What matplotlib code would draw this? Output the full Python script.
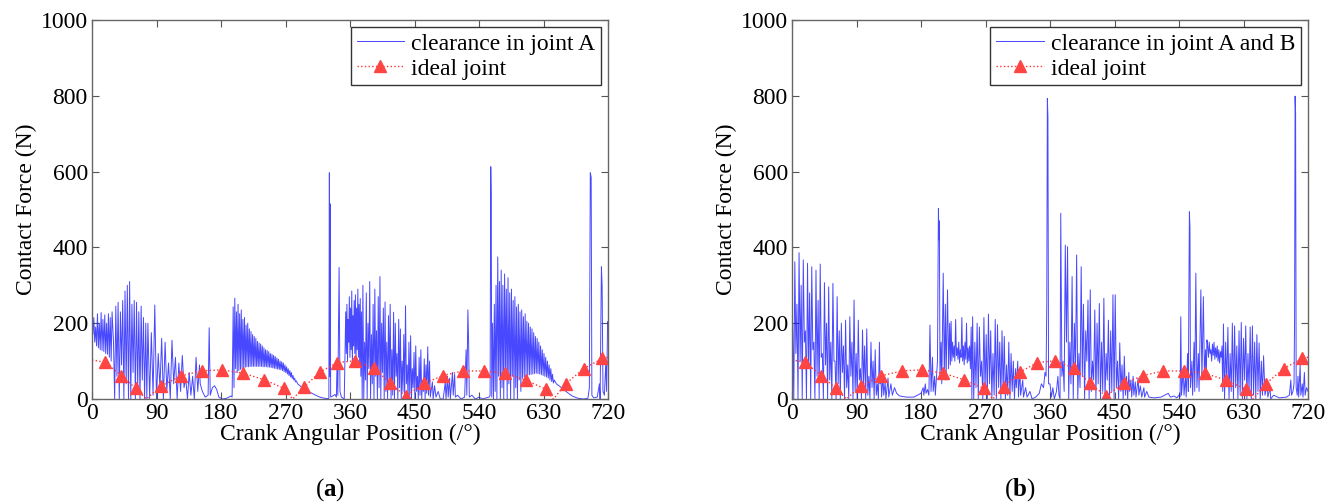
import matplotlib
matplotlib.use('Agg')
import matplotlib.pyplot as plt
import numpy as np

plt.rcParams['font.family'] = ['Liberation Serif', 'DejaVu Serif']
plt.rcParams['mathtext.fontset'] = 'custom'
plt.rcParams['mathtext.rm'] = 'Liberation Serif'
plt.rcParams['mathtext.bf'] = 'Liberation Serif:bold'

# ideal joint (same in both panels); zero dips have no marker
ideal_x = [0, 18, 41, 61, 76, 96, 124, 153, 181, 211, 240, 268, 280, 296, 318, 342, 367,
           394, 416, 438, 463, 490, 518, 547, 576, 605, 633, 644, 661, 686, 712, 720]
ideal_y = [103, 97, 62, 28, 0, 34, 61, 74, 77, 68, 51, 28, 0, 32, 71, 96, 101,
           81, 41, 8, 41, 62, 74, 74, 68, 50, 26, 0, 40, 80, 107, 110]
ideal_marks = [i for i, x in enumerate(ideal_x) if x not in (0, 76, 280, 644, 720)]

# clearance in joint A: bursts of impacts (start, end, peak heights, trough heights)
a_bursts = [
    (0, 28, [205, 215, 190, 225, 200, 228, 210, 222, 200, 225, 215, 230],
     [170, 150, 140, 135, 130, 128, 125, 120, 118, 110, 100]),
    (30, 75, [150, 245, 255, 230, 260, 285, 300, 310, 250, 260, 255, 230, 245, 215, 200],
     [0, 60, 0, 90, 0, 40, 0, 0, 70, 0, 30, 0, 50, 0]),
    (78, 150, [200, 175, 248, 120, 160, 150, 95, 155, 110, 95, 115, 55, 70, 60, 110, 90],
     [0, 10, 0, 30, 0, 20, 0, 40, 0, 20, 30, 0, 10, 0, 20]),
    (197, 285, [243, 266, 230, 250, 225, 235, 210, 215, 195, 200, 185, 178, 170, 165, 160,
                152, 148, 145, 140, 135, 130, 128, 125, 120, 118, 115, 112, 108, 105, 100,
                98, 95, 90, 85, 80, 75, 70, 62, 55, 48],
     [30, 80, 70, 75, 78, 80, 82, 84, 85, 85, 86, 86, 86, 86, 86, 86, 86, 86, 85, 85,
      85, 84, 84, 83, 82, 81, 80, 79, 78, 77, 75, 72, 70, 66, 62, 58, 54, 50, 45]),
    (354, 376, [230, 250, 210, 270, 240, 285, 220, 260, 275, 240, 290, 250, 265, 230],
     [120, 100, 150, 110, 130, 90, 140, 120, 100, 130, 110, 90, 60]),
    (378, 466, [300, 150, 280, 200, 310, 170, 250, 290, 180, 270, 323, 200, 240, 256, 150,
                220, 250, 130, 229, 200, 120, 210, 185, 100, 170, 246, 90, 150, 167, 80,
                123, 140, 60, 110, 130, 50, 106, 90],
     [0, 50, 0, 80, 0, 40, 0, 60, 0, 30, 0, 70, 0, 20, 0, 50, 0, 10, 0, 60, 0, 30, 0, 20,
      0, 40, 0, 10, 0, 30, 0, 20, 0, 10, 0, 20, 0]),
    (559, 645, [200, 250, 300, 375, 310, 340, 300, 330, 290, 320, 280, 290, 260, 270, 243,
                250, 230, 235, 217, 225, 205, 200, 190, 185, 175, 165, 160, 150, 140, 130,
                120, 110, 100, 90, 80, 65, 50],
     [0, 20, 0, 60, 0, 30, 0, 80, 0, 40, 0, 60, 0, 30, 0, 50, 20, 55, 58, 60, 62, 64,
      65, 66, 67, 68, 67, 66, 64, 62, 60, 58, 55, 50, 46, 42]),
]
a_points = [
    (76.5, 0), (151, 40), (154, 20), (158, 5), (162, 10), (163.5, 188), (165, 10),
    (168, 30), (171, 35), (174, 25), (177, 5), (182, 0), (188, 2), (194, 8), (195.5, 5),
    (287, 40), (292, 32), (298, 25), (305, 17), (312, 10), (318, 5), (324, 2), (329, 1),
    (330.5, 2), (331.2, 597), (331.7, 60), (332.2, 515), (333, 5), (336, 8), (339, 12),
    (341, 5), (342, 100), (343, 10), (344.8, 347), (346, 20), (348, 5), (352, 0),
    (377, 0),
    (467, 15), (468.5, 138), (469.5, 10), (471, 100), (472, 5), (475, 45), (476, 0),
    (478, 35), (480, 5), (483, 20), (486, 0), (490, 0), (493, 45), (494, 0), (496, 60),
    (497, 5), (499, 55), (500, 0), (503, 70), (504, 10), (506, 65), (507, 5), (510, 10),
    (515, 0), (520, 5), (522, 130), (523, 10), (524.5, 235), (525.5, 150), (526.5, 5),
    (530, 10), (535, 0), (540, 5), (545, 0), (550, 3), (554, 5),
    (555.5, 10), (556.4, 613), (557, 540), (557.8, 5),
    (648, 40), (655, 30), (662, 19), (670, 8), (678, 2), (686, 0), (692, 2), (694, 30),
    (695.3, 597), (696.5, 585), (697.5, 10), (700, 3), (705, 5), (708, 40), (709, 0),
    (710.8, 349), (711.8, 300), (713, 20), (715, 10), (717, 100), (718, 20),
    (719.5, 204), (720, 180),
]

# clearance in joint A and B
b_bursts = [
    (1, 122, [200, 362, 250, 386, 300, 367, 180, 358, 280, 349, 150, 340, 260, 356, 120,
              307, 200, 296, 150, 305, 100, 270, 180, 200, 140, 208, 90, 217, 150, 261,
              120, 208, 80, 182, 140, 185, 60, 150, 100, 130, 40, 150],
     [0, 120, 0, 100, 0, 150, 0, 80, 0, 130, 0, 60, 0, 110, 0, 90, 0, 50, 0, 100, 0,
      40, 0, 70, 0, 30, 0, 60, 0, 20, 0, 50, 0, 40, 0, 10, 0, 30, 0, 10, 0]),
    (224, 250, [150, 140, 210, 135, 150, 130, 215, 140, 150, 200, 135, 140, 190],
     [110, 100, 115, 105, 95, 110, 100, 90, 105, 95, 100, 80]),
    (252, 312, [217, 150, 200, 190, 100, 215, 170, 224, 180, 120, 210, 196, 150, 180, 165,
                90, 150, 120, 100, 80],
     [0, 30, 0, 60, 0, 20, 0, 40, 0, 10, 0, 30, 0, 20, 0, 10, 0, 20, 0]),
    (375, 470, [490, 100, 406, 402, 150, 323, 200, 380, 120, 349, 250, 180, 261, 288, 100,
                235, 200, 252, 150, 266, 120, 208, 180, 275, 275, 100, 148, 90, 113, 60, 70],
     [60, 20, 150, 0, 40, 0, 80, 0, 30, 60, 0, 100, 0, 20, 50, 0, 40, 0, 20, 0, 50, 0,
      20, 0, 30, 0, 20, 0, 10, 0]),
    (580, 600, [140, 150, 130, 145, 150, 135, 140, 130, 125, 140],
     [110, 120, 100, 115, 105, 110, 100, 95, 110]),
    (602, 658, [198, 150, 189, 120, 200, 193, 140, 180, 202, 160, 193, 120, 190, 193, 150,
                170, 148, 100, 114],
     [0, 40, 0, 20, 0, 30, 0, 10, 0, 50, 0, 20, 0, 10, 0, 20, 0, 10]),
]
b_points = [
    (0, 100),
    (123, 40), (124, 70), (125, 5), (127, 60), (128, 10), (130, 45), (131, 0), (134, 55),
    (135, 5), (138, 40), (140, 10), (143, 30), (146, 15), (150, 8), (160, 5), (170, 5),
    (175, 10), (180, 15), (183, 30), (184, 10), (186, 40), (187, 15), (189, 25),
    (191, 10), (192.5, 195), (194, 20), (196, 110), (197, 20), (199, 60), (200, 10),
    (203, 100), (204.3, 503), (205, 420), (205.6, 470), (206.5, 60), (208, 150), (209, 40),
    (211, 332), (212.5, 60), (214, 250), (215, 50), (217, 288), (218.5, 80), (220, 200),
    (221, 90), (222, 205), (223, 100), (251, 0),
    (313, 30), (315, 100), (316, 5), (318, 80), (319, 10), (322, 50), (323, 5), (326, 30),
    (328, 5), (332, 20), (335, 0), (340, 5), (345, 15), (348, 40), (351, 30), (353, 70),
    (354.5, 60), (355.5, 250), (356.3, 793), (357.1, 745), (358, 40), (360, 40), (362, 5),
    (364, 30), (366, 0), (369, 20), (371, 60), (372.5, 10), (374, 0),
    (471, 20), (473, 50), (474, 5), (476, 60), (477, 10), (479, 45), (480, 5), (483, 55),
    (484, 10), (486, 35), (488, 5), (491, 30), (492, 5), (495, 20), (498, 5), (505, 3),
    (515, 5), (520, 10), (525, 15), (528, 5), (533, 8), (537, 3), (540, 10),
    (541.5, 5), (542.5, 217), (543.5, 10), (546, 80), (547, 10), (549, 60), (550, 5),
    (552, 120), (553, 20), (554.5, 494), (555.3, 451), (556, 30), (558, 100), (559, 10),
    (561, 150), (562, 20), (563.5, 332), (565, 30), (567, 120), (568, 20), (570.5, 288),
    (572, 50), (574, 270), (575.5, 60), (577, 130), (578, 60), (579, 156), (601, 20),
    (660, 10), (663, 40), (664, 5), (667, 30), (668, 0), (672, 10), (680, 3), (690, 5),
    (694, 10), (696, 50), (697, 10), (699, 20),
    (700.5, 40), (701.3, 217), (702, 799), (702.7, 755), (703.5, 30), (705, 10), (706, 60),
    (707, 5), (709, 90), (710, 10), (712, 40), (713, 5), (715, 70), (716, 10), (718, 30),
    (720, 20),
]


def build(bursts, points):
    xs, ys = [], []
    for start, end, peaks, troughs in bursts:
        px = np.linspace(start, end, len(peaks))
        for i, p in enumerate(peaks):
            xs.append(px[i])
            ys.append(p)
            if i < len(peaks) - 1:
                xs.append((px[i] + px[i + 1]) / 2)
                ys.append(troughs[min(i, len(troughs) - 1)])
    xs += [p[0] for p in points]
    ys += [p[1] for p in points]
    order = np.argsort(xs, kind='stable')
    return np.array(xs)[order], np.array(ys)[order]


fig = plt.figure(figsize=(13.41, 5.04), dpi=100)
ax1 = fig.add_axes([92 / 1341, 105 / 504, 516 / 1341, 379 / 504])
ax2 = fig.add_axes([792 / 1341, 105 / 504, 516 / 1341, 379 / 504])

panels = [(ax1, a_bursts, a_points, 'clearance in joint A', '(a)', 330),
          (ax2, b_bursts, b_points, 'clearance in joint A and B', '(b)', 1020)]

for ax, bursts, points, name, tag, tag_x in panels:
    cx, cy = build(bursts, points)
    ax.plot(cx, cy, color='#1a1aff', lw=0.7, alpha=0.8, label=name)
    ax.plot(ideal_x, ideal_y, ls=':', color='#ff3333', lw=1.0, marker='^',
            markersize=8, markevery=ideal_marks, markerfacecolor='#ff4444',
            markeredgecolor='#ff4444', label='ideal joint')
    ax.set_xlim(0, 720)
    ax.set_ylim(0, 1000)
    ax.set_xticks(np.arange(0, 721, 90))
    ax.set_yticks(np.arange(0, 1001, 200))
    ax.tick_params(direction='in', top=True, right=True, length=5, width=0.8,
                   color='#555555', labelsize=17, pad=3)
    for s in ax.spines.values():
        s.set_color('#666666')
        s.set_linewidth(1.0)
    ax.set_xlabel('Crank Angular Position (/°)', fontsize=17, labelpad=0)
    ax.set_ylabel('Contact Force (N)', fontsize=17, labelpad=3)
    leg = ax.legend(loc='upper right', fontsize=17, fancybox=False, framealpha=1,
                    edgecolor='#333333', borderaxespad=0.3, borderpad=0.25,
                    labelspacing=0.15, handlelength=2.0, handletextpad=0.3)
    leg.get_frame().set_linewidth(1.0)
    fig.text(tag_x / 1341, 14 / 504, '(' + r'$\mathbf{' + tag[1] + '}$' + ')',
             fontsize=18, ha='center', va='center')

plt.savefig('out.png', dpi=100)
